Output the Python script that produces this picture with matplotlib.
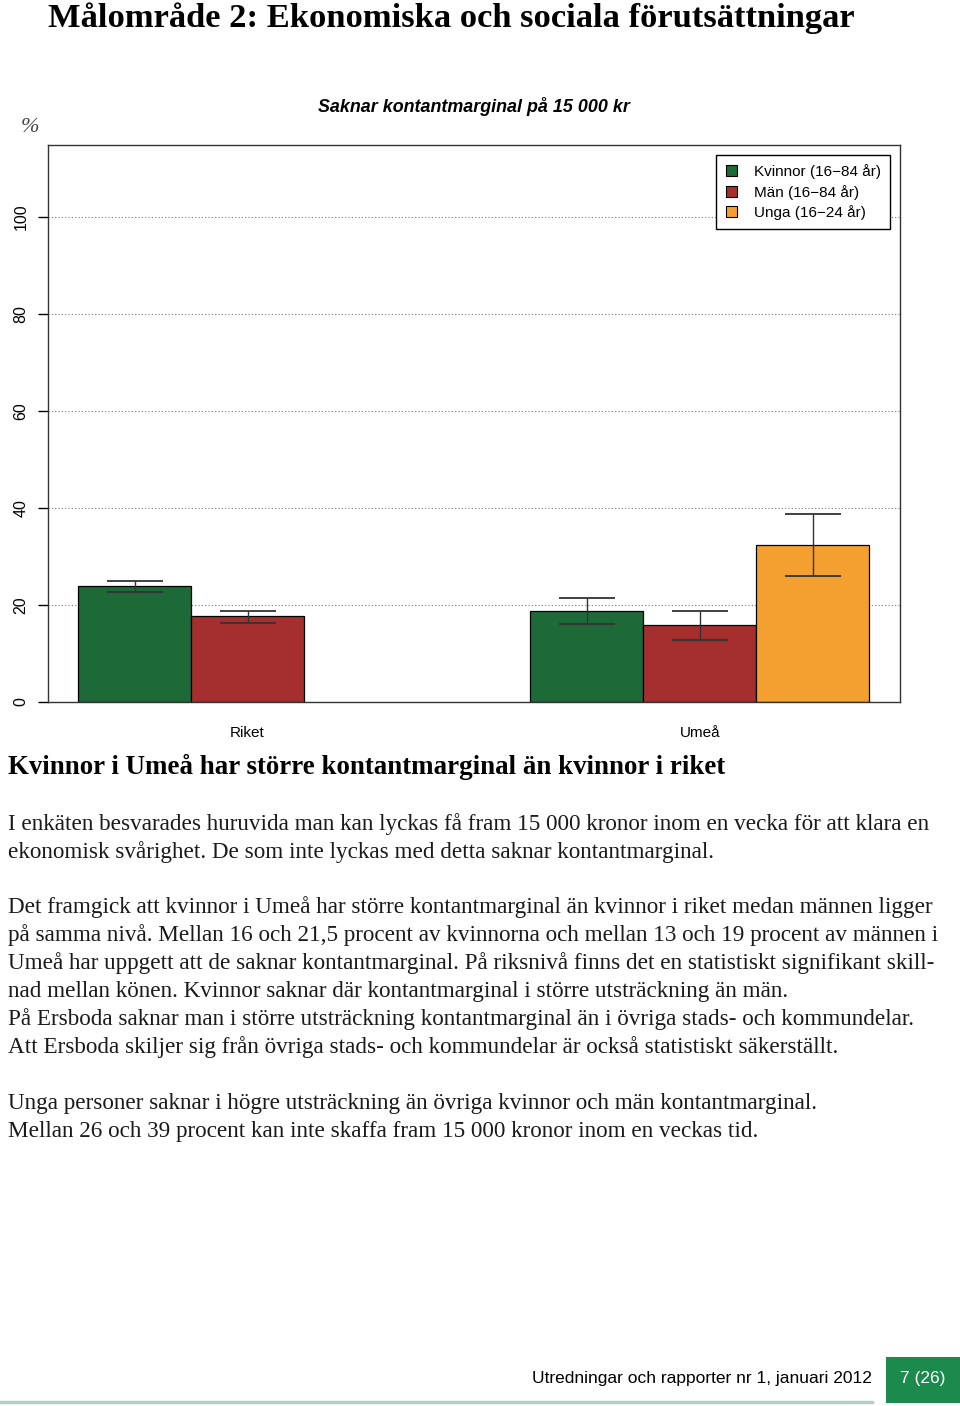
import numpy as np
import matplotlib.pyplot as plt
from matplotlib.patches import Patch, Rectangle
from matplotlib.lines import Line2D

# data (percent lacking cash margin)
groups = ["Riket", "Umeå"]
series = ["Kvinnor (16\u221284 år)", "Män (16\u221284 år)", "Unga (16\u221224 år)"]
colors = ["#1d6a38", "#a52f2f", "#f4a030"]
values = [[23.9, 17.7, np.nan],
          [18.8, 15.9, 32.4]]
lower = [[22.7, 16.3, np.nan],
         [16.1, 12.8, 26.0]]
upper = [[24.9, 18.8, np.nan],
         [21.4, 18.8, 38.8]]

W, H = 960, 1406
fig = plt.figure(figsize=(W / 100, H / 100), dpi=100)

def px(x, y):
    return x / W, 1 - y / H

serif = "Liberation Serif"
sans = "Liberation Sans"

# page heading
fig.text(*px(48, 18), "Målområde 2: Ekonomiska och sociala förutsättningar",
         family=serif, weight="bold", fontsize=24.8, va="center", ha="left")

# chart
ax = fig.add_axes([48 / W, 1 - 702 / H, 852 / W, 557 / H])
for g, gname in enumerate(groups):
    for s in range(len(series)):
        v = values[g][s]
        if np.isnan(v):
            continue
        xc = g * 4 + s + 0.5
        ax.bar(xc, v, width=1.0, color=colors[s], edgecolor="black",
               linewidth=0.9, zorder=2)
        ax.errorbar(xc, v, yerr=[[v - lower[g][s]], [upper[g][s] - v]],
                    fmt="none", ecolor="#333333", elinewidth=1.0,
                    capsize=20, capthick=1.3, zorder=3)

ax.set_xlim(-0.265, 7.27)
ax.set_ylim(0, 114.85)
ax.set_yticks([0, 20, 40, 60, 80, 100])
ax.set_yticklabels(["0", "20", "40", "60", "80", "100"], rotation=90,
                   va="center", family=sans, fontsize=11.5)
ax.tick_params(axis="y", length=7, width=1, pad=7)
ax.set_xticks([1.5, 5.5])
ax.set_xticklabels(groups, family=sans, fontsize=11)
ax.tick_params(axis="x", length=0, pad=17)
for yv in [20, 40, 60, 80, 100]:
    ax.axhline(yv, color="#777777", linestyle=(0, (1, 2)), linewidth=0.8,
               zorder=1)
for sp in ax.spines.values():
    sp.set_linewidth(1.0)
    sp.set_color("#333333")

handles = [Patch(facecolor=c, edgecolor="black", linewidth=0.8) for c in colors]
leg = ax.legend(handles, series, loc="upper right",
                bbox_to_anchor=(0.9883, 0.982), prop={"family": sans, "size": 11},
                fancybox=False, edgecolor="black", framealpha=1,
                handlelength=0.75, handleheight=0.75, handletextpad=1.1,
                labelspacing=0.35, borderpad=0.6, borderaxespad=0)
leg.get_frame().set_linewidth(1.0)

fig.text(*px(474, 107), "Saknar kontantmarginal på 15 000 kr", family=sans,
         weight="bold", style="italic", fontsize=12.9, ha="center", va="center")
fig.text(*px(30, 127), "%", family=serif, style="italic", fontsize=16,
         ha="center", va="center", color="#444444")

# text below the chart
fig.text(*px(8, 767), "Kvinnor i Umeå har större kontantmarginal än kvinnor i riket",
         family=serif, weight="bold", fontsize=19.4, va="center", ha="left")

body = [
    (824, "I enkäten besvarades huruvida man kan lyckas få fram 15 000 kronor inom en vecka för att klara en"),
    (852, "ekonomisk svårighet. De som inte lyckas med detta saknar kontantmarginal."),
    (907, "Det framgick att kvinnor i Umeå har större kontantmarginal än kvinnor i riket medan männen ligger"),
    (935, "på samma nivå. Mellan 16 och 21,5 procent av kvinnorna och mellan 13 och 19 procent av männen i"),
    (963, "Umeå har uppgett att de saknar kontantmarginal. På riksnivå finns det en statistiskt signifikant skill-"),
    (991, "nad mellan könen. Kvinnor saknar där kontantmarginal i större utsträckning än män."),
    (1019, "På Ersboda saknar man i större utsträckning kontantmarginal än i övriga stads- och kommundelar."),
    (1047, "Att Ersboda skiljer sig från övriga stads- och kommundelar är också statistiskt säkerställt."),
    (1103, "Unga personer saknar i högre utsträckning än övriga kvinnor och män kontantmarginal."),
    (1131, "Mellan 26 och 39 procent kan inte skaffa fram 15 000 kronor inom en veckas tid."),
]
for y, line in body:
    fig.text(*px(8, y), line, family=serif, fontsize=16.7, va="center", ha="left",
             color="#1a1a1a")

# footer
fig.add_artist(Line2D([0, 872 / W], [1 - 1402 / H] * 2, color="#b5cfc4",
                      linewidth=2.5, transform=fig.transFigure))
fig.text(*px(872, 1378), "Utredningar och rapporter nr 1, januari 2012",
         family=sans, fontsize=12.5, va="center", ha="right")
fig.add_artist(Rectangle(px(886, 1403), 74 / W, 46 / H, facecolor="#1b8a4c",
                         edgecolor="none", transform=fig.transFigure))
fig.text(*px(923, 1378), "7 (26)", family=sans, fontsize=12.5, va="center",
         ha="center", color="white")

fig.savefig("out.png", dpi=100)
